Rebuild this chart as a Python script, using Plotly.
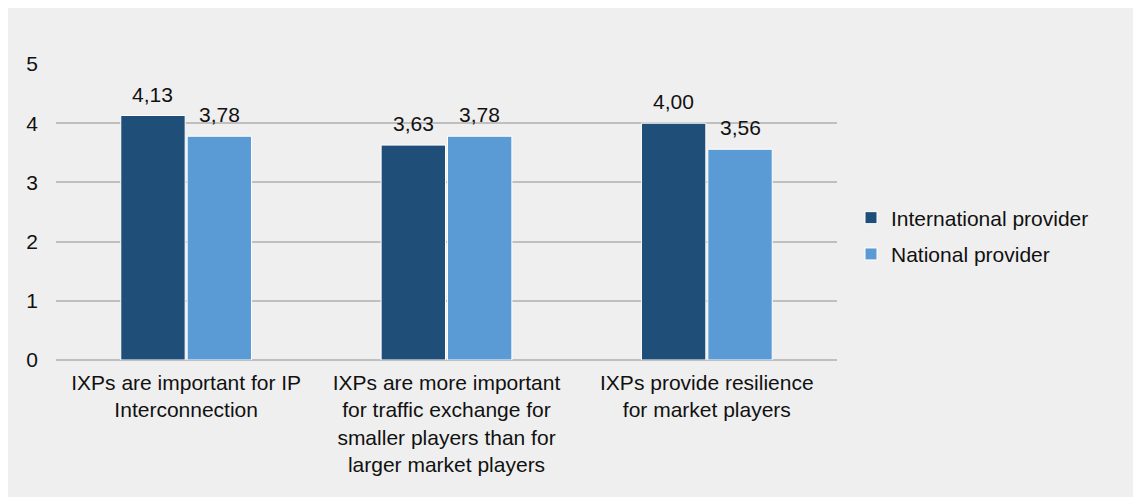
import plotly.graph_objects as go

categories = [
    "IXPs are important for IP<br>Interconnection",
    "IXPs are more important<br>for traffic exchange for<br>smaller players than for<br>larger market players",
    "IXPs provide resilience<br>for market players",
]
international = [4.13, 3.63, 4.00]
national = [3.78, 3.78, 3.56]
y_ticks = [0, 1, 2, 3, 4, 5]

W, H = 1131, 489
L, R, T, B = 48, 302, 56, 137
pw, ph = W - L - R, H - T - B

font = dict(family="Liberation Sans, Arial, sans-serif", size=21, color="#111111")

fig = go.Figure()
series = [("International provider", international, "#1F4E79", -1),
          ("National provider", national, "#5B9BD5", 1)]
for i, (name, vals, color, side) in enumerate(series):
    fig.add_trace(go.Bar(
        name=name, x=categories, y=vals, legendgroup=f"g{i}",
        marker=dict(color=color, line=dict(color="white", width=1)),
    ))
    for c, v in zip(categories, vals):
        fig.add_annotation(x=c, y=v, text=f"{v:.2f}".replace(".", ","),
                           showarrow=False, xshift=side * 33.3, yshift=8,
                           yanchor="bottom", font=font)

fig.update_layout(
    width=W, height=H,
    margin=dict(l=L, r=R, t=T, b=B),
    paper_bgcolor="#efefef",
    plot_bgcolor="#efefef",
    barmode="group",
    bargap=0.49,
    bargroupgap=0.03,
    font=font,
    showlegend=True,
    legend=dict(x=(843 - L) / pw, y=(H - B - 228) / ph, xanchor="left", yanchor="middle",
                bgcolor="rgba(0,0,0,0)", font=font, tracegroupgap=6),
    xaxis=dict(showgrid=False, showline=False, ticks="", tickfont=font, ticklabelstandoff=8),
    yaxis=dict(range=[0, 5], tickvals=y_ticks, showgrid=True, gridcolor="#bfbfbf",
               gridwidth=2, zeroline=True, zerolinecolor="#bfbfbf", zerolinewidth=2,
               showline=False, ticks="", tickfont=font, ticklabelstandoff=17),
)

fig.write_html("out.html")
